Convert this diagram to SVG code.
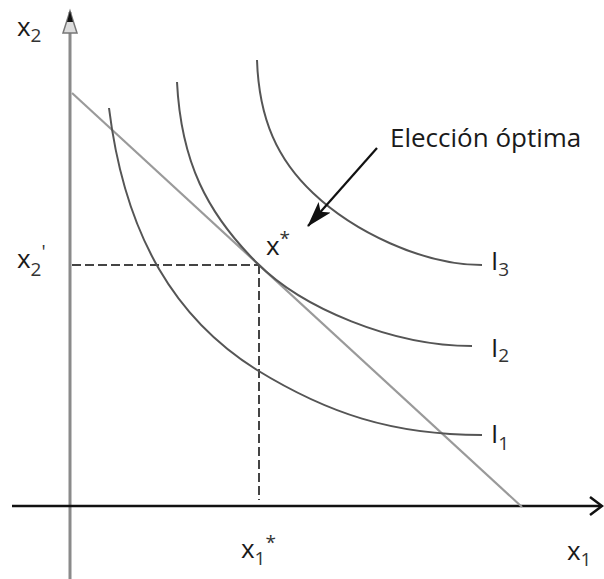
<svg xmlns="http://www.w3.org/2000/svg" width="604" height="579" viewBox="0 0 604 579">
<style>
.lbl{font-family:"Open Sans","Liberation Sans",sans-serif;font-size:26px;fill:#1a1a1a}
.sub{font-size:19px;fill:#333}
.curve{fill:none;stroke:#555;stroke-width:2}
.budget{fill:none;stroke:#9a9a9a;stroke-width:2.2}
.dash{fill:none;stroke:#444;stroke-width:2;stroke-dasharray:9 4}
</style>
<defs>
<marker id="ah" viewBox="0 0 10 10" refX="9" refY="5" markerWidth="9" markerHeight="7" markerUnits="userSpaceOnUse" orient="auto">
<path d="M0,0 L10,5 L0,10 z" fill="#111"/>
</marker>
<marker id="big" viewBox="0 0 26 16" refX="25" refY="8" markerWidth="26" markerHeight="16" markerUnits="userSpaceOnUse" orient="auto">
<path d="M0,0 L26,8 L0,16 L6,8 z" fill="#111"/>
</marker>
</defs>
<g id="axes">
<line x1="70" y1="12" x2="70" y2="579" stroke="#8a8a8a" stroke-width="3"/>
<path d="M63,33 L70,11 L77,33 Z" fill="#ddd" stroke="#777" stroke-width="1.5"/>
<path d="M67,22 L70,11 L73,22 Z" fill="#111"/>
<line x1="12" y1="506" x2="601" y2="506" stroke="#111" stroke-width="2.5"/>
<path d="M590,497 L602,506 L590,515" fill="none" stroke="#111" stroke-width="2.5"/>
</g>
<g id="budget-line">
<line class="budget" x1="72" y1="93" x2="522" y2="507"/>
</g>
<g id="guides">
<line class="dash" x1="72" y1="265" x2="258" y2="265"/>
<line class="dash" x1="259" y1="265" x2="259" y2="500"/>
</g>
<g id="I1">
<path class="curve" d="M109,108 C125,238 177,320 257,370 C327,413 392,435 482,435"/>
</g>
<g id="I2">
<path class="curve" d="M177,82 C181,162 207,213 257,263 C302,308 392,346 472,346"/>
</g>
<g id="I3">
<path class="curve" d="M257,60 C259,120 278,160 313,193 C353,231 422,265 482,265"/>
</g>
<g id="connectors">
<line x1="377" y1="148" x2="308" y2="226" stroke="#111" stroke-width="2.2" marker-end="url(#big)"/>
</g>
<g id="labels">
<text class="lbl" x="390" y="147">Elección óptima</text>
<text class="lbl" x="17" y="36">x<tspan class="sub" dy="6">2</tspan></text>
<text class="lbl" x="17" y="268">x<tspan class="sub" dy="8">2</tspan><tspan class="sub" dy="-18">'</tspan></text>
<text class="lbl" x="266" y="255" font-size="22">x<tspan class="sub" font-size="16" dy="-10">*</tspan></text>
<text class="lbl" x="241" y="558">x<tspan class="sub" dy="7">1</tspan><tspan class="sub" dy="-16">*</tspan></text>
<text class="lbl" x="567" y="560">x<tspan class="sub" dy="6">1</tspan></text>
<text class="lbl" x="491" y="270" font-size="29">I<tspan class="sub" dy="6">3</tspan></text>
<text class="lbl" x="491" y="357" font-size="29">I<tspan class="sub" dy="5">2</tspan></text>
<text class="lbl" x="491" y="443" font-size="29">I<tspan class="sub" dy="7">1</tspan></text>
</g>
</svg>
